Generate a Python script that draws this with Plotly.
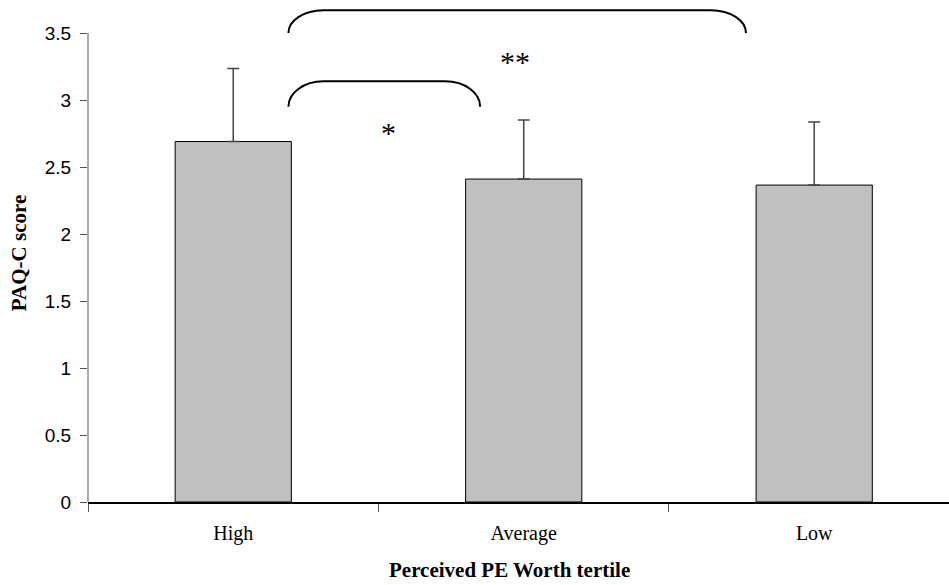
import plotly.graph_objects as go

categories = ["High", "Average", "Low"]
means = [2.69, 2.41, 2.365]
sd_upper = [0.545, 0.44, 0.47]
y_ticks = [0, 0.5, 1, 1.5, 2, 2.5, 3, 3.5]
y_tick_text = ["0", "0.5", "1", "1.5", "2", "2.5", "3", "3.5"]

# significance brackets: (start idx, end idx, top y, bottom y, label, label x, label y)
brackets = [
    (0.19, 0.85, 3.14, 2.95, "*", 0.533, 2.755),
    (0.19, 1.765, 3.67, 3.50, "**", 0.97, 3.285),
]

fig = go.Figure()
fig.add_trace(go.Bar(
    x=categories, y=means, width=0.4,
    marker=dict(color="#C0C0C0", line=dict(color="black", width=1)),
    error_y=dict(type="data", symmetric=False, array=sd_upper,
                 arrayminus=[0, 0, 0], color="#444", thickness=1.5, width=6),
    showlegend=False,
))

shapes = []
annotations = []
for x0, x1, yt, yb, lab, lx, ly in brackets:
    rx = 0.12
    ry = (yt - yb)
    k = 0.552
    path = (f"M {x0},{yb} C {x0},{yb + k*ry} {x0 + rx*(1-k)},{yt} {x0 + rx},{yt} "
            f"L {x1 - rx},{yt} C {x1 - rx*(1-k)},{yt} {x1},{yb + k*ry} {x1},{yb}")
    shapes.append(dict(type="path", path=path, xref="x", yref="y",
                       line=dict(color="black", width=2)))
    annotations.append(dict(x=lx, y=ly, xref="x", yref="y", text=lab, showarrow=False,
                            font=dict(family="Liberation Serif", size=30, color="black"),
                            xanchor="center", yanchor="middle"))

# y axis line only up to 3.5
shapes.append(dict(type="line", xref="paper", yref="y", x0=0, x1=0, y0=0, y1=3.5,
                   line=dict(color="#555", width=1)))

annotations.append(dict(x=(509 - 88) / (949 - 88), y=-(570 - 502) / 498,
                        xref="paper", yref="paper", text="<b>Perceived PE Worth tertile</b>",
                        showarrow=False, xanchor="center", yanchor="middle",
                        font=dict(family="Liberation Serif", size=21, color="black")))

fig.update_layout(
    width=949, height=585,
    margin=dict(l=88, r=0, t=4, b=83),
    plot_bgcolor="white", paper_bgcolor="white",
    shapes=shapes,
    annotations=annotations,
    bargap=0.6,
    xaxis=dict(
        type="category", range=[-0.5, 2.464],
        tickson="boundaries", ticks="outside", ticklen=8, tickcolor="#555",
        showline=True, linecolor="black", linewidth=1.5,
        showgrid=False, zeroline=False, ticklabelstandoff=12,
        tickfont=dict(family="Liberation Serif", size=20, color="black"),
    ),
    yaxis=dict(
        range=[0, 498 / 134], tickvals=y_ticks, ticktext=y_tick_text,
        ticks="outside", ticklen=7, tickcolor="#555",
        showline=False, showgrid=False, zeroline=False, ticklabelstandoff=5,
        tickfont=dict(family="Liberation Sans", size=19, color="black"),
        title=dict(text="<b>PAQ-C score</b>", standoff=12,
                   font=dict(family="Liberation Serif", size=21, color="black")),
    ),
)
fig.write_html("out.html", config={"displayModeBar": False},
               post_script="document.body.style.margin='0';")
